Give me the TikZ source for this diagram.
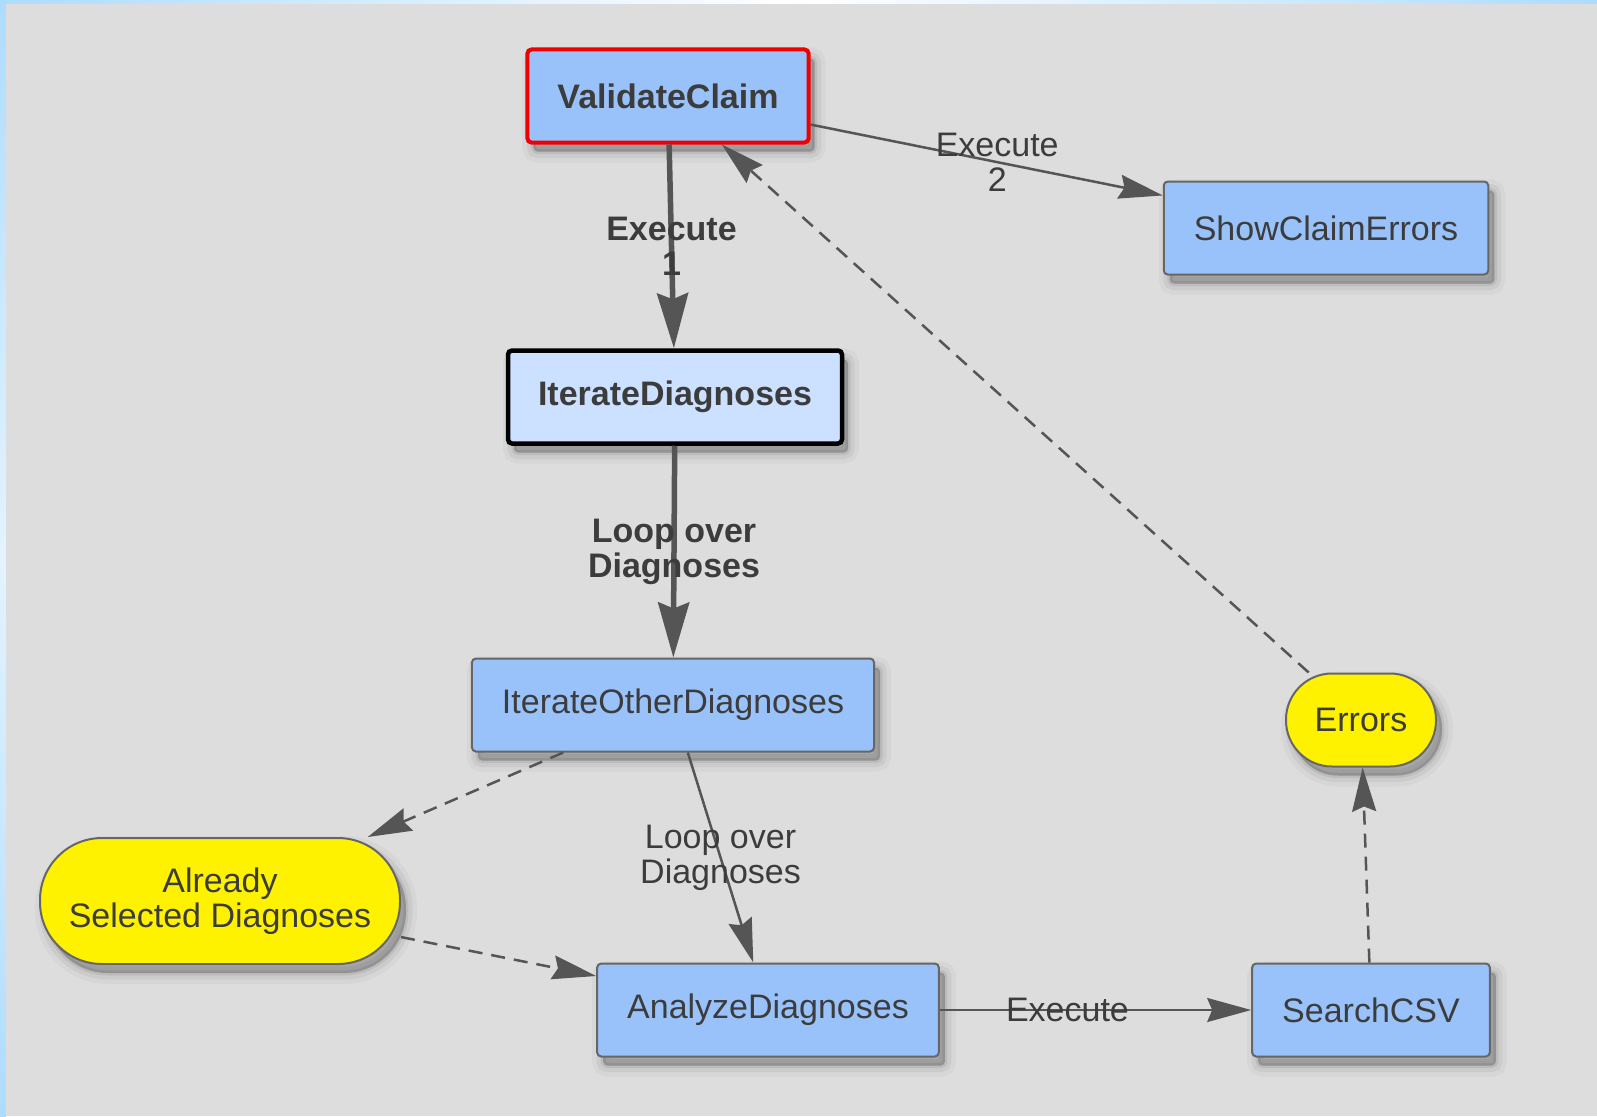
\documentclass[tikz,border=0pt]{standalone}
\usepackage{fontspec}
\setmainfont{Liberation Sans}
\usepackage{xcolor}
\usepackage{tikz}
\usetikzlibrary{arrows.meta, shadows}

\definecolor{bggray}{HTML}{DDDDDD}
\definecolor{edgeblue}{HTML}{ADDCFF}
\definecolor{edgepale}{HTML}{E4F3FF}
\definecolor{boxblue}{HTML}{99C2FA}
\definecolor{boxpale}{HTML}{CCE0FF}
\definecolor{framegray}{HTML}{666666}
\definecolor{linegray}{HTML}{555555}
\definecolor{textgray}{HTML}{3C3C3C}
\definecolor{claimred}{HTML}{F00000}

\begin{document}
\begin{tikzpicture}[
        x=1pt, y=-1pt,
        every node/.style={
            font=\fontsize{34}{35}\selectfont,
            text=textgray,
            align=center
        },
        softshadow/.style={
            general shadow={fill=black, fill opacity=0.04, draw=black,
                draw opacity=0.03, line width=22pt,
                shadow xshift=6pt, shadow yshift=-9pt},
            general shadow={fill=black, fill opacity=0.07, draw=black,
                draw opacity=0.05, line width=13pt,
                shadow xshift=6pt, shadow yshift=-9pt},
            general shadow={fill=black, fill opacity=0.12, draw=black,
                draw opacity=0.07, line width=5pt,
                shadow xshift=6pt, shadow yshift=-9pt}
        },
        task/.style={
            draw=framegray,
            line width=2pt,
            fill=boxblue,
            rounded corners=4pt,
            inner xsep=30pt,
            minimum height=93pt,
            softshadow
        },
        boldtask/.style={
            task,
            font=\fontsize{34}{35}\selectfont\bfseries
        },
        datum/.style={
            task,
            fill=yellow,
            inner xsep=0pt
        },
        boldlabel/.style={
            font=\fontsize{34}{35}\selectfont\bfseries
        },
        flow/.style={
            draw=linegray,
            line width=2.5pt,
            -{Stealth[length=44pt, width=24pt, inset=5pt]}
        },
        link/.style={
            flow,
            dash pattern=on 14pt off 9pt
        },
        strong/.style={
            draw=linegray,
            line width=5.5pt,
            -{Stealth[length=55pt, width=31pt, inset=6pt]}
        }
    ]

    % frame
    \useasboundingbox (0,0) rectangle (1597,1116);
    \shade[left color=edgeblue, right color=edgeblue, middle color=white]
        (0,0) rectangle (1597,4);
    \shade[top color=edgeblue, bottom color=edgeblue, middle color=edgepale]
        (0,0) rectangle (6,1116);
    \fill[bggray] (6,4) rectangle (1597,1116);

    \node[boldtask, draw=claimred, line width=4pt] (validate) at (668,96) {ValidateClaim};

    \node[task] (showerrors) at (1326,228) {ShowClaimErrors};

    \node[boldtask, draw=black, line width=4.5pt, fill=boxpale] (iterate) at (675,397) {IterateDiagnoses};

    \node[task] (iterateother) at (673,705) {IterateOtherDiagnoses};

    \node[datum, minimum width=360pt, minimum height=126pt, rounded corners=62pt] (selected) at (220,901) {
        Already\\Selected Diagnoses
    };

    \node[task] (analyze) at (768,1010) {AnalyzeDiagnoses};

    \node[task] (search) at (1371,1010) {SearchCSV};

    \node[datum, minimum width=150pt, rounded corners=46pt] (errors) at (1361,720) {Errors};

    \draw[strong] (validate) -- node[boldlabel] {Execute\\1} (iterate);
    \draw[flow] (validate) -- node[pos=0.53] {Execute\\2} (showerrors);

    \draw[strong] (iterate) -- node[boldlabel] {Loop over\\Diagnoses} (iterateother);
    \draw[flow] (iterateother) -- node {Loop over\\Diagnoses} (analyze);

    \draw[link] (iterateother) -- (selected);
    \draw[link] (selected) -- (analyze);

    \draw[flow] (analyze) -- node[pos=0.41] {Execute} (search);

    \draw[link] (search) -- (errors);
    \draw[link] (errors) -- (validate);

    \end{tikzpicture}
\end{document}
